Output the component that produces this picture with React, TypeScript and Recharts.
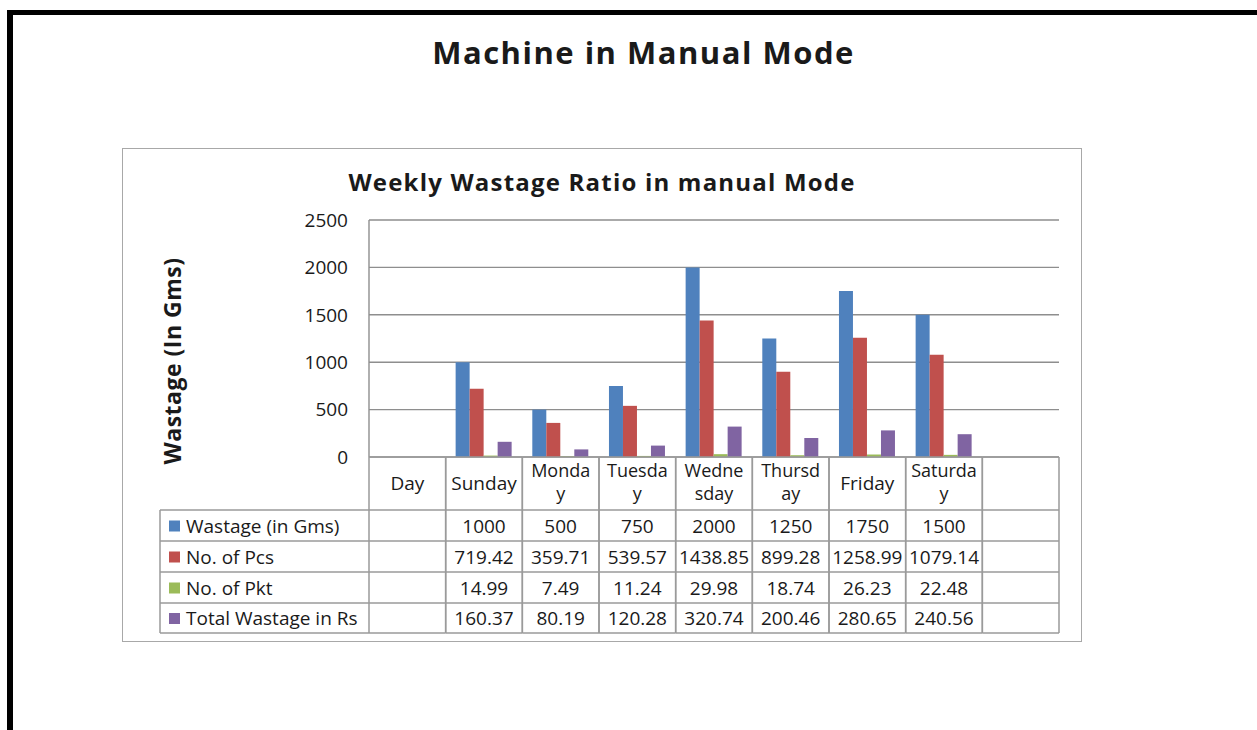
import { BarChart, Bar, XAxis, YAxis, CartesianGrid } from "recharts";

const DAYS = ["Day", "Sunday", "Monday", "Tuesday", "Wednesday", "Thursday", "Friday", "Saturday", " "];
// header text as it wraps in the original table
const DAY_LINES = [["Day"], ["Sunday"], ["Monda", "y"], ["Tuesda", "y"], ["Wedne", "sday"], ["Thursd", "ay"], ["Friday"], ["Saturda", "y"], []];

const WASTAGE_GMS = [null, 1000, 500, 750, 2000, 1250, 1750, 1500, null];
const NO_OF_PCS = [null, 719.42, 359.71, 539.57, 1438.85, 899.28, 1258.99, 1079.14, null];
const NO_OF_PKT = [null, 14.99, 7.49, 11.24, 29.98, 18.74, 26.23, 22.48, null];
const TOTAL_RS = [null, 160.37, 80.19, 120.28, 320.74, 200.46, 280.65, 240.56, null];

const Y_TICKS = [0, 500, 1000, 1500, 2000, 2500];

const SERIES = [
  { key: "gms", name: "Wastage (in Gms)", values: WASTAGE_GMS, color: "#4F81BD" },
  { key: "pcs", name: "No. of Pcs", values: NO_OF_PCS, color: "#C0504D" },
  { key: "pkt", name: "No. of Pkt", values: NO_OF_PKT, color: "#9BBB59" },
  { key: "rs", name: "Total Wastage in Rs", values: TOTAL_RS, color: "#8064A2" },
];

const data = DAYS.map((day, i) => {
  const row: Record<string, string | number | null> = { day };
  SERIES.forEach((s) => (row[s.key] = s.values[i]));
  return row;
});

const FONT = "'Open Sans', sans-serif";
const LINE = "#9a9a9a";
const TEXT = "#1a1a1a";

const PLOT_LEFT = 369;
const PLOT_RIGHT = 1059;
const COL_W = (PLOT_RIGHT - PLOT_LEFT) / DAYS.length;
const HEADER_H = 53;
const ROW_EDGES = [53, 84, 115, 146, 176];
const LEGEND_LEFT = 160;

const TableColumn = (props: any) => {
  const { x, y, index } = props;
  const left = x - COL_W / 2;
  const lines: string[] = DAY_LINES[index] ?? [];
  const bottom = y + ROW_EDGES[ROW_EDGES.length - 1];
  return (
    <g fontFamily={FONT} fontSize={19} fill={TEXT}>
      <line x1={left} x2={left + COL_W} y1={y} y2={y} stroke={LINE} strokeWidth={1.5} />
      <line x1={left} x2={left} y1={y} y2={bottom} stroke={LINE} strokeWidth={1.5} />
      <line x1={left + COL_W} x2={left + COL_W} y1={y} y2={bottom} stroke={LINE} strokeWidth={1.5} />
      {ROW_EDGES.map((e) => (
        <line key={e} x1={left} x2={left + COL_W} y1={y + e} y2={y + e} stroke={LINE} strokeWidth={1.5} />
      ))}
      {lines.map((t, i) => (
        <text
          key={t}
          x={x}
          y={lines.length === 1 ? y + 26 : y + 13 + i * 23}
          fontSize={lines.length === 1 ? 19 : 18}
          textAnchor="middle"
          dominantBaseline="central"
        >
          {t}
        </text>
      ))}
      {SERIES.map((s, r) =>
        s.values[index] == null ? null : (
          <text
            key={s.key}
            x={x}
            y={y + (ROW_EDGES[r] + ROW_EDGES[r + 1]) / 2}
            textAnchor="middle"
            dominantBaseline="central"
          >
            {s.values[index]}
          </text>
        )
      )}
      {index === 0 && (
        <g>
          <line x1={LEGEND_LEFT} x2={LEGEND_LEFT} y1={y + HEADER_H} y2={bottom} stroke={LINE} strokeWidth={1.5} />
          {ROW_EDGES.map((e) => (
            <line key={e} x1={LEGEND_LEFT} x2={left} y1={y + e} y2={y + e} stroke={LINE} strokeWidth={1.5} />
          ))}
          {SERIES.map((s, r) => {
            const cy = y + (ROW_EDGES[r] + ROW_EDGES[r + 1]) / 2;
            return (
              <g key={s.key}>
                <rect x={LEGEND_LEFT + 9} y={cy - 5} width={11} height={11} fill={s.color} />
                <text x={LEGEND_LEFT + 26} y={cy} dominantBaseline="central">
                  {s.name}
                </text>
              </g>
            );
          })}
        </g>
      )}
    </g>
  );
};

export default function App() {
  return (
    <div
      style={{
        position: "absolute",
        left: 0,
        top: 0,
        width: 1257,
        height: 730,
        background: "#fff",
        fontFamily: FONT,
        color: TEXT,
        overflow: "hidden",
      }}
    >
      {/* page frame */}
      <div style={{ position: "absolute", left: 7, top: 10, width: 1250, height: 5, background: "#000" }} />
      <div style={{ position: "absolute", left: 7, top: 10, width: 6, height: 720, background: "#000" }} />

      <div
        style={{
          position: "absolute",
          left: 0,
          width: 1287,
          top: 31,
          textAlign: "center",
          fontWeight: 700,
          fontSize: 31,
          letterSpacing: 1.5,
        }}
      >
        Machine in Manual Mode
      </div>

      {/* chart area box */}
      <div
        style={{
          position: "absolute",
          left: 122,
          top: 148,
          width: 960,
          height: 494,
          border: "1.5px solid #a8a8a8",
          boxSizing: "border-box",
        }}
      />

      <div
        style={{
          position: "absolute",
          left: 122,
          width: 960,
          top: 165,
          textAlign: "center",
          fontWeight: 700,
          fontSize: 24,
          letterSpacing: 1.2,
        }}
      >
        Weekly Wastage Ratio in manual Mode
      </div>

      <div
        style={{
          position: "absolute",
          left: 172,
          top: 361,
          transform: "translate(-50%, -50%) rotate(-90deg)",
          whiteSpace: "nowrap",
          fontWeight: 700,
          fontSize: 23,
          letterSpacing: 0.5,
        }}
      >
        Wastage (In Gms)
      </div>

      <div style={{ position: "absolute", left: 0, top: 0 }}>
        <BarChart
          width={1257}
          height={730}
          data={data}
          margin={{ top: 220, right: 198, bottom: 97, left: 309 }}
          barCategoryGap="13%"
          barGap={0}
        >
          <CartesianGrid vertical={false} stroke="#8e8e8e" strokeWidth={1.4} />
          <XAxis
            dataKey="day"
            height={176}
            interval={0}
            axisLine={false}
            tickLine={false}
            tickSize={0}
            tickMargin={0}
            tick={<TableColumn />}
          />
          <YAxis
            width={60}
            domain={[0, 2500]}
            ticks={Y_TICKS}
            axisLine={{ stroke: "#8e8e8e", strokeWidth: 1.4 }}
            tickLine={false}
            tickSize={0}
            tickMargin={21}
            tick={{ fill: TEXT, fontSize: 19, fontFamily: FONT }}
          />
          {SERIES.map((s) => (
            <Bar key={s.key} dataKey={s.key} name={s.name} fill={s.color} isAnimationActive={false} />
          ))}
        </BarChart>
      </div>
    </div>
  );
}
